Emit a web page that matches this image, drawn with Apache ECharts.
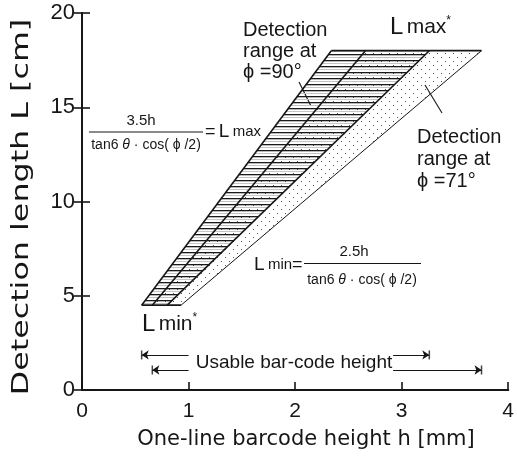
<!DOCTYPE html>
<html><head><meta charset="utf-8">
<script src="https://cdn.jsdelivr.net/npm/echarts@6/dist/echarts.min.js"></script>
<style>html,body{margin:0;padding:0;background:#fff}#c{width:517px;height:457px}</style>
</head><body><div id="c"></div>
<script>
// ---- data ----
const xTicks = [0, 1, 2, 3, 4];
const yTicks = [0, 5, 10, 15, 20];
const Lmin = 4.5, Lmax = 18;
const boundaryNames = ['Lmax ϕ=90°', 'Lmax ϕ=71°', 'Lmin ϕ=90°', 'Lmin ϕ=71°'];
const hAtLmin = [0.56, 0.66, 0.80, 0.93];
const hAtLmax = [2.34, 2.66, 3.26, 3.75];
const regionNames = ['ϕ=71°', 'ϕ=90°'];
const regionFrom = [1, 0];
const regionTo = [3, 2];
const usableL = [1.86, 1.06];
const usableFrom = [hAtLmin[0], hAtLmin[1]];
const usableTo = [hAtLmax[2], hAtLmax[3]];
const gapFrom = 1.0, gapTo = 2.92;

// ---- patterns ----
function makeLines() {
  const c = document.createElement('canvas'); c.width = 8; c.height = 6;
  const g = c.getContext('2d');
  g.fillStyle = '#1a1a1a'; g.fillRect(0, 0, 8, 1.3);
  g.fillStyle = '#c4c4c4'; g.fillRect(0, 3, 8, 1);
  return c;
}
function makeDots() {
  const c = document.createElement('canvas'); c.width = 8; c.height = 8;
  const g = c.getContext('2d');
  g.fillStyle = '#555'; g.fillRect(1, 1, 1, 1); g.fillRect(5, 5, 1, 1);
  return c;
}
const patterns = [{ image: makeDots(), repeat: 'repeat' }, { image: makeLines(), repeat: 'repeat' }];

const FONT = "'Liberation Sans', Arial, sans-serif";
const INK = '#161616';

const series = [];
regionNames.forEach((nm, k) => {
  series.push({
    type: 'custom', name: nm, data: [0], z: 2 + k,
    renderItem: (params, api) => {
      const a = regionFrom[k], b = regionTo[k];
      const pts = [
        api.coord([hAtLmin[a], Lmin]), api.coord([hAtLmax[a], Lmax]),
        api.coord([hAtLmax[b], Lmax]), api.coord([hAtLmin[b], Lmin])
      ];
      return { type: 'polygon', shape: { points: pts }, style: { fill: patterns[k], stroke: null } };
    }
  });
});
boundaryNames.forEach((nm, i) => {
  series.push({
    type: 'line', name: nm, z: 5, symbol: 'none', silent: true,
    lineStyle: { color: INK, width: i === 3 ? 1 : 1.6 },
    data: [[hAtLmin[i], Lmin], [hAtLmax[i], Lmax]]
  });
});
series.push({ type: 'line', z: 5, symbol: 'none', lineStyle: { color: INK, width: 1.8 },
  data: [[hAtLmax[0], Lmax], [hAtLmax[3], Lmax]] });
series.push({ type: 'line', z: 5, symbol: 'none', lineStyle: { color: INK, width: 1.8 },
  data: [[hAtLmin[0], Lmin], [hAtLmin[3], Lmin]] });

const arrowData = [];
const barData = [];
usableL.forEach((L, i) => {
  arrowData.push({ coords: [[gapFrom, L], [usableFrom[i], L]] });
  arrowData.push({ coords: [[gapTo, L], [usableTo[i], L]] });
  barData.push([usableFrom[i], L], [usableTo[i], L]);
});
series.push({ type: 'lines', coordinateSystem: 'cartesian2d', z: 5, symbol: ['none', 'arrow'], symbolSize: 7,
  lineStyle: { color: INK, width: 1.2, opacity: 1 }, data: arrowData });
series.push({ type: 'scatter', z: 5, symbol: 'rect', symbolSize: [1.5, 9], itemStyle: { color: INK }, data: barData });

const frac = (x1, x2, y) => ({ type: 'line', shape: { x1, y1: y, x2, y2: y }, style: { stroke: INK, lineWidth: 1.2 } });
const txt = (x, y, text, size, align) => ({ type: 'text', x, y,
  style: { text, font: size + 'px ' + FONT, fill: INK, align: align || 'left', verticalAlign: 'middle' } });

const chart = echarts.init(document.getElementById('c'), null, { renderer: 'canvas' });
chart.setOption({
  animation: false,
  backgroundColor: '#fff',
  grid: { left: 82, right: 2, top: 13, bottom: 67 },
  xAxis: [{
    type: 'value', min: xTicks[0], max: xTicks[xTicks.length - 1], interval: 1,
    splitLine: { show: false },
    axisLine: { lineStyle: { color: INK, width: 2 } },
    axisTick: { inside: true, length: 8, lineStyle: { color: INK, width: 1.6 } },
    axisLabel: { fontSize: 21, fontFamily: FONT, color: INK, margin: 11 }
  }, {
    type: 'value', position: 'top', min: 0, max: 4, interval: 1,
    splitLine: { show: false }, axisTick: { show: false }, axisLabel: { show: false },
    axisLine: { show: true, lineStyle: { color: INK, width: 2 } }
  }],
  yAxis: [{
    type: 'value', min: yTicks[0], max: yTicks[yTicks.length - 1], interval: 5,
    splitLine: { show: false },
    axisLine: { show: true, lineStyle: { color: INK, width: 2 } },
    axisTick: { show: true, inside: true, length: 8, lineStyle: { color: INK, width: 1.6 } },
    axisLabel: { fontSize: 22, fontFamily: FONT, color: INK, margin: 7 }
  }, {
    type: 'value', position: 'right', min: 0, max: 20, interval: 5,
    splitLine: { show: false }, axisLabel: { show: false },
    axisLine: { show: true, lineStyle: { color: INK, width: 2 } },
    axisTick: { show: true, inside: true, length: 8, lineStyle: { color: INK, width: 1.6 } }
  }],
  series,
  graphic: [
    // axis names
    { type: 'text', x: 306, y: 440,
      style: { text: 'One-line barcode height h [mm]', font: "21px 'DejaVu Sans', sans-serif", fill: INK, align: 'center', verticalAlign: 'middle' } },
    { type: 'text', x: 22, y: 207, rotation: Math.PI / 2, scaleX: 1.38,
      style: { text: 'Detection length L [cm]', font: "23px 'DejaVu Sans', sans-serif", fill: INK, align: 'center', verticalAlign: 'middle' } },
    // phi=90 label
    { type: 'text', x: 243, y: 20, style: { text: 'Detection\nrange at\nϕ =90°', font: '20px ' + FONT, fill: INK, lineHeight: 21, align: 'left', verticalAlign: 'top' } },
    { type: 'line', shape: { x1: 299, y1: 82, x2: 311, y2: 106 }, style: { stroke: INK, lineWidth: 1.1 } },
    // phi=71 label
    { type: 'text', x: 417, y: 126, style: { text: 'Detection\nrange at\nϕ =71°', font: '20px ' + FONT, fill: INK, lineHeight: 22, align: 'left', verticalAlign: 'top' } },
    { type: 'line', shape: { x1: 425, y1: 85, x2: 442, y2: 113 }, style: { stroke: INK, lineWidth: 1.1 } },
    // L max*
    { type: 'text', x: 390, y: 27, style: { text: '{a|L} {b|max}{c|*}', verticalAlign: 'middle', rich: {
      a: { font: '24px ' + FONT, fill: INK }, b: { font: '21px ' + FONT, fill: INK }, c: { font: '12px ' + FONT, fill: INK, verticalAlign: 'top' } } } },
    // L min*
    { type: 'text', x: 142, y: 324, style: { text: '{a|L} {b|min}{c|*}', verticalAlign: 'middle', rich: {
      a: { font: '24px ' + FONT, fill: INK }, b: { font: '21px ' + FONT, fill: INK }, c: { font: '12px ' + FONT, fill: INK, verticalAlign: 'top' } } } },
    // upper formula
    txt(141, 121, '3.5h', 15, 'center'),
    frac(89, 203, 132),
    { type: 'text', x: 146, y: 145, style: { text: '{t|tan6 }{i|θ}{t| · cos( ϕ /2)}', align: 'center', verticalAlign: 'middle', rich: {
      t: { font: '14px ' + FONT, fill: INK }, i: { font: 'italic 14px ' + FONT, fill: INK } } } },
    { type: 'text', x: 205, y: 132, style: { text: '{e|=} {a|L} {b|max}', verticalAlign: 'middle', rich: {
      e: { font: '18px ' + FONT, fill: INK }, a: { font: '19px ' + FONT, fill: INK }, b: { font: '15px ' + FONT, fill: INK } } } },
    // lower formula
    { type: 'text', x: 254, y: 265, style: { text: '{a|L} {b|min}{e|=}', verticalAlign: 'middle', rich: {
      e: { font: '18px ' + FONT, fill: INK }, a: { font: '19px ' + FONT, fill: INK }, b: { font: '15px ' + FONT, fill: INK } } } },
    txt(354, 252, '2.5h', 15, 'center'),
    frac(304, 421, 263.5),
    { type: 'text', x: 362, y: 280, style: { text: '{t|tan6 }{i|θ}{t| · cos( ϕ /2)}', align: 'center', verticalAlign: 'middle', rich: {
      t: { font: '14px ' + FONT, fill: INK }, i: { font: 'italic 14px ' + FONT, fill: INK } } } },
    // usable height
    txt(294, 363, 'Usable bar-code height', 19, 'center')
  ]
});
</script></body></html>
